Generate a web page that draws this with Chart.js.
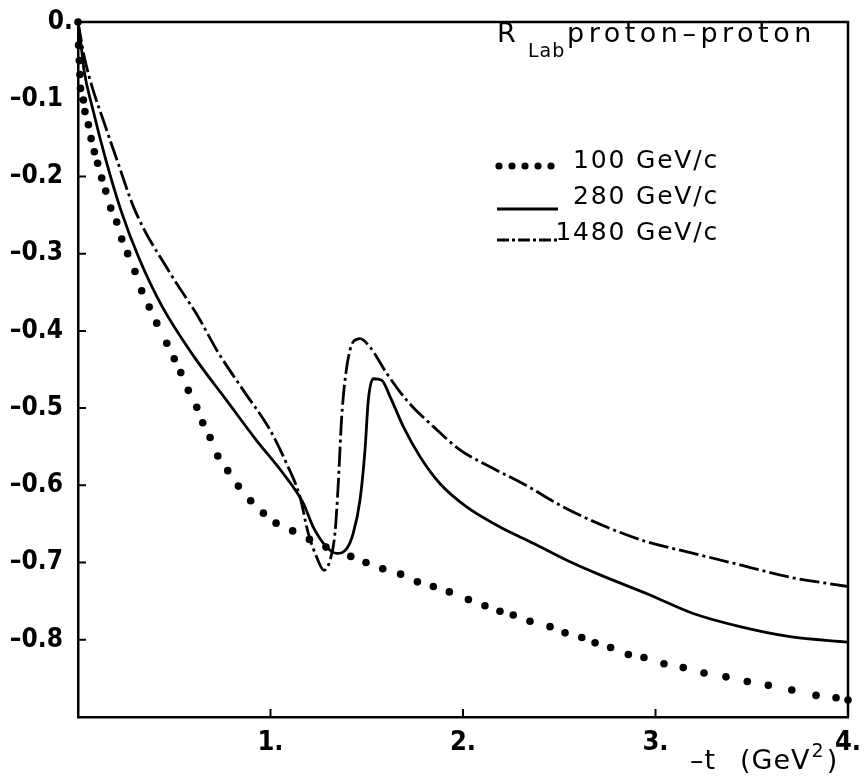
<!DOCTYPE html>
<html>
<head>
<meta charset="utf-8">
<style>
  html, body { margin: 0; padding: 0; background: #fff; }
  #wrap { width: 866px; height: 778px; }
</style>
</head>
<body>
<div id="wrap"><canvas id="rlabChart" width="866" height="778"></canvas></div>
<script src="https://cdn.jsdelivr.net/npm/chart.js@4.4.1/dist/chart.umd.min.js"></script>
<script>
// --- values (-t in GeV^2, R_Lab) ---

// 100 GeV/c (dotted)
const dotT = [0, 0.003, 0.007, 0.010, 0.013, 0.028, 0.036, 0.054, 0.068, 0.085, 0.102, 0.123, 0.144, 0.170,
  0.201, 0.227, 0.258, 0.296, 0.331, 0.370, 0.409, 0.461, 0.500, 0.534, 0.573, 0.617, 0.648, 0.686,
  0.726, 0.778, 0.833, 0.897, 0.963, 1.029, 1.115, 1.202, 1.288, 1.417, 1.496, 1.583, 1.676, 1.763,
  1.846, 1.929, 2.028, 2.114, 2.192, 2.261, 2.348, 2.452, 2.530, 2.617, 2.686, 2.767, 2.859, 2.940,
  3.044, 3.144, 3.252, 3.366, 3.477, 3.586, 3.708, 3.834, 3.938, 4.0];
const dotR = [0, -0.030, -0.050, -0.068, -0.086, -0.101, -0.116, -0.133, -0.151, -0.168, -0.183, -0.202, -0.219, -0.241,
  -0.259, -0.281, -0.300, -0.323, -0.348, -0.369, -0.390, -0.416, -0.436, -0.454, -0.477, -0.499, -0.519, -0.538,
  -0.562, -0.581, -0.601, -0.620, -0.636, -0.649, -0.659, -0.670, -0.680, -0.692, -0.700, -0.708, -0.715, -0.725,
  -0.731, -0.738, -0.748, -0.756, -0.763, -0.768, -0.776, -0.783, -0.791, -0.797, -0.804, -0.810, -0.819, -0.823,
  -0.831, -0.836, -0.843, -0.848, -0.854, -0.859, -0.865, -0.872, -0.875, -0.878];

// 280 GeV/c (solid)
const solidT = [0, 0.016, 0.031, 0.078, 0.145, 0.223, 0.317, 0.436, 0.599, 0.772, 0.928, 1.067, 1.170, 1.222, 1.292,
  1.344, 1.396, 1.430, 1.465, 1.491, 1.508, 1.534, 1.578, 1.621, 1.690, 1.777, 1.881, 2.019, 2.192, 2.365,
  2.539, 2.712, 2.971, 3.196, 3.439, 3.699, 4.0];
const solidR = [0, -0.030, -0.062, -0.114, -0.179, -0.244, -0.306, -0.368, -0.432, -0.490, -0.542, -0.585, -0.623, -0.654, -0.680,
  -0.688, -0.682, -0.662, -0.619, -0.554, -0.490, -0.462, -0.464, -0.485, -0.524, -0.563, -0.598, -0.628, -0.654, -0.675,
  -0.697, -0.716, -0.742, -0.766, -0.783, -0.796, -0.803];

// 1480 GeV/c (dash-dot)
const dashT = [0, 0.021, 0.036, 0.078, 0.131, 0.203, 0.296, 0.478, 0.625, 0.721, 0.859, 0.997, 1.084, 1.153, 1.196, 1.240,
  1.278, 1.309, 1.335, 1.352, 1.370, 1.396, 1.430, 1.465, 1.517, 1.604, 1.708, 1.846, 1.984, 2.140, 2.313,
  2.521, 2.746, 2.954, 3.196, 3.439, 3.699, 4.0];
const dashR = [0, -0.030, -0.049, -0.088, -0.127, -0.179, -0.244, -0.325, -0.382, -0.425, -0.477, -0.528, -0.572, -0.615, -0.662, -0.693,
  -0.710, -0.697, -0.662, -0.598, -0.511, -0.447, -0.414, -0.410, -0.421, -0.455, -0.490, -0.524, -0.554, -0.576, -0.598,
  -0.628, -0.654, -0.673, -0.688, -0.703, -0.719, -0.731];

// tick positions and their printed labels
const xTicks = [1, 2, 3, 4];
const xTickLabels = ['1.', '2.', '3.', '4.'];
const yTicks = [0, -0.1, -0.2, -0.3, -0.4, -0.5, -0.6, -0.7, -0.8];
const yTickLabels = ['0.', '–0.1', '–0.2', '–0.3', '–0.4', '–0.5', '–0.6', '–0.7', '–0.8'];

const seriesNames = ['100 GeV/c', '280 GeV/c', '1480 GeV/c'];

const CONDENSED = "'DejaVu Sans Condensed', 'Liberation Sans Narrow', 'DejaVu Sans', sans-serif";
const SANS = "'DejaVu Sans', 'Liberation Sans', sans-serif";
const DASHDOT = [20, 4, 3, 4];

function pairs(xs, ys) {
    return xs.map((x, i) => ({ x: x, y: ys[i] }));
}

// frame on top/right, inward tick marks, the "0." label sits closer to the axis
const framePlugin = {
    id: 'frame',
    afterDatasetsDraw(chart) {
        const ctx = chart.ctx;
        const a = chart.chartArea;
        const xs = chart.scales.x;
        const ys = chart.scales.y;
        ctx.save();
        ctx.strokeStyle = '#000';
        ctx.lineWidth = 2.5;
        ctx.beginPath();
        ctx.moveTo(a.left, a.top);
        ctx.lineTo(a.right, a.top);
        ctx.lineTo(a.right, a.bottom);
        ctx.stroke();

        ctx.lineWidth = 2;
        ctx.beginPath();
        ys.ticks.forEach(t => {
            const py = ys.getPixelForValue(t.value);
            ctx.moveTo(a.left, py);
            ctx.lineTo(a.left + 8, py);
        });
        xs.ticks.forEach(t => {
            const px = xs.getPixelForValue(t.value);
            ctx.moveTo(px, a.bottom);
            ctx.lineTo(px, a.bottom - 8);
        });
        ctx.stroke();

        ctx.fillStyle = '#000';
        ctx.font = 'bold 26px ' + CONDENSED;
        ctx.textAlign = 'right';
        ctx.textBaseline = 'middle';
        ctx.fillText(yTickLabels[0], a.left - 5, ys.getPixelForValue(yTicks[0]));
        ctx.restore();
    }
};

// title, hand-drawn legend and axis title
const notesPlugin = {
    id: 'notes',
    afterDraw(chart) {
        const ctx = chart.ctx;
        ctx.save();
        ctx.fillStyle = '#000';
        ctx.strokeStyle = '#000';
        ctx.textBaseline = 'alphabetic';

        // R_Lab proton–proton
        ctx.textAlign = 'left';
        ctx.letterSpacing = '1px';
        ctx.font = '27px ' + SANS;
        ctx.fillText('R', 497, 42);
        ctx.font = '19px ' + SANS;
        ctx.fillText('Lab', 528, 57);
        ctx.letterSpacing = '4.5px';
        ctx.font = '27px ' + SANS;
        ctx.fillText('proton–proton', 567, 42);

        // legend entries
        ctx.letterSpacing = '1.8px';
        ctx.font = '25px ' + SANS;
        ctx.textAlign = 'right';
        const baselines = [168, 204, 240];
        seriesNames.forEach((name, i) => {
            ctx.fillText(name, 719, baselines[i]);
        });

        // samples
        for (let k = 0; k < 5; k++) {
            ctx.beginPath();
            ctx.arc(499 + k * 13, 166, 3.6, 0, Math.PI * 2);
            ctx.fill();
        }
        ctx.lineWidth = 2.8;
        ctx.beginPath();
        ctx.moveTo(497, 209);
        ctx.lineTo(558, 209);
        ctx.stroke();
        ctx.setLineDash([12, 3, 3, 3]);
        ctx.beginPath();
        ctx.moveTo(497, 240);
        ctx.lineTo(560, 240);
        ctx.stroke();
        ctx.setLineDash([]);

        // axis title  -t (GeV^2)
        ctx.letterSpacing = '1px';
        ctx.textAlign = 'left';
        ctx.font = '27px ' + SANS;
        ctx.fillText('–t', 690, 769);
        ctx.fillText('(GeV', 740, 769);
        const w = ctx.measureText('(GeV').width;
        ctx.font = '19px ' + SANS;
        ctx.fillText('2', 740 + w + 1, 757);
        const w2 = ctx.measureText('2').width;
        ctx.font = '27px ' + SANS;
        ctx.fillText(')', 740 + w + w2 + 3, 769);
        ctx.restore();
    }
};

document.addEventListener('DOMContentLoaded', function () {
    let ctx = document.getElementById('rlabChart').getContext('2d');

    let rlabChart = new Chart(ctx, {
        type: 'scatter',
        data: {
            datasets: [
                {
                    label: seriesNames[0],
                    data: pairs(dotT, dotR),
                    showLine: false,
                    pointRadius: 3.8,
                    pointBackgroundColor: '#000',
                    pointBorderWidth: 0,
                    clip: false
                },
                {
                    label: seriesNames[1],
                    data: pairs(solidT, solidR),
                    showLine: true,
                    borderColor: '#000',
                    borderWidth: 2.8,
                    pointRadius: 0,
                    cubicInterpolationMode: 'monotone'
                },
                {
                    label: seriesNames[2],
                    data: pairs(dashT, dashR),
                    showLine: true,
                    borderColor: '#000',
                    borderWidth: 2.8,
                    borderDash: DASHDOT,
                    pointRadius: 0,
                    cubicInterpolationMode: 'monotone'
                }
            ]
        },
        options: {
            responsive: false,
            animation: false,
            devicePixelRatio: 1,
            layout: { padding: { top: 22, right: 18, left: 0, bottom: 0 } },
            scales: {
                x: {
                    type: 'linear',
                    min: 0,
                    max: 4,
                    afterBuildTicks: s => { s.ticks = xTicks.map(v => ({ value: v })); },
                    afterFit: s => {
                        s.height = 61;
                        s.paddingLeft = 0;
                        s.paddingRight = 0;
                    },
                    grid: { display: false, drawTicks: false },
                    border: { display: true, color: '#000', width: 2.5 },
                    ticks: {
                        color: '#000',
                        padding: 10,
                        maxRotation: 0,
                        autoSkip: false,
                        font: { size: 27, family: CONDENSED, weight: 'bold' },
                        callback: (v, i) => xTickLabels[i]
                    }
                },
                y: {
                    type: 'linear',
                    min: -0.9,
                    max: 0,
                    afterBuildTicks: s => { s.ticks = yTicks.map(v => ({ value: v })); },
                    afterFit: s => {
                        s.width = 78;
                        s.paddingTop = 0;
                        s.paddingBottom = 0;
                    },
                    grid: { display: false, drawTicks: false },
                    border: { display: true, color: '#000', width: 2.5 },
                    ticks: {
                        color: '#000',
                        padding: 15,
                        autoSkip: false,
                        font: { size: 26, family: CONDENSED, weight: 'bold' },
                        // "0." is drawn by the frame plugin, nearer the axis
                        callback: (v, i) => (i === 0 ? '' : yTickLabels[i])
                    }
                }
            },
            plugins: {
                legend: { display: false },
                tooltip: { enabled: false }
            }
        },
        plugins: [framePlugin, notesPlugin]
    });
});
</script>
</body>
</html>
